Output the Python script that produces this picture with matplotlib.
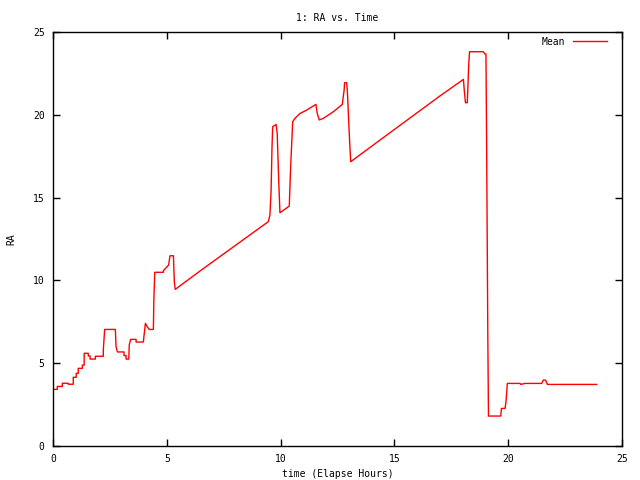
import matplotlib
matplotlib.use('Agg')
import matplotlib.pyplot as plt

# elapsed hours / RA readings
time_hours = [0.0, 0.19, 0.19, 0.41, 0.41, 0.67, 0.67, 0.89, 0.89, 1.02, 1.02, 1.11, 1.11,
              1.29, 1.29, 1.37, 1.37, 1.55, 1.55, 1.63, 1.63, 1.86, 1.86, 2.21, 2.21, 2.27,
              2.74, 2.77, 2.83, 3.12, 3.12, 3.21, 3.21, 3.33, 3.35, 3.41, 3.65, 3.65, 3.97,
              3.99, 4.06, 4.14, 4.23, 4.41, 4.43, 4.47, 4.85, 4.85, 5.08, 5.14, 5.29, 5.33,
              5.37, 6.46, 9.46, 9.53, 9.58, 9.62, 9.65, 9.80, 9.85, 9.91, 9.97, 10.38, 10.44,
              10.53, 10.63, 10.85, 11.15, 11.55, 11.61, 11.70, 11.88, 12.32, 12.71, 12.79,
              12.81, 12.90, 12.93, 13.00, 13.05, 13.08, 14.37, 17.00, 18.03, 18.07, 18.12,
              18.20, 18.22, 18.26, 18.30, 18.90, 18.98, 19.02, 19.05, 19.10, 19.13, 19.67,
              19.70, 19.86, 19.90, 19.96, 20.52, 20.55, 20.74, 21.47, 21.54, 21.64, 21.72,
              23.89]
ra = [3.42, 3.42, 3.60, 3.60, 3.79, 3.79, 3.73, 3.73, 4.15, 4.15, 4.39, 4.39, 4.69,
      4.69, 4.89, 4.89, 5.60, 5.60, 5.44, 5.44, 5.25, 5.25, 5.42, 5.42, 5.80, 7.04,
      7.04, 6.00, 5.68, 5.68, 5.46, 5.46, 5.25, 5.25, 6.10, 6.44, 6.44, 6.28, 6.28,
      6.56, 7.41, 7.20, 7.04, 7.04, 8.77, 10.49, 10.49, 10.59, 10.93, 11.49, 11.49,
      9.92, 9.46, 10.57, 13.55, 13.95, 15.36, 17.98, 19.28, 19.42, 18.88, 16.26, 14.09,
      14.49, 16.87, 19.58, 19.79, 20.08, 20.29, 20.63, 20.08, 19.69, 19.79, 20.19,
      20.63, 21.50, 21.94, 21.94, 21.50, 19.28, 17.87, 17.17, 18.48, 21.14, 22.14,
      21.44, 20.73, 20.73, 21.44, 22.99, 23.81, 23.81, 23.67, 23.67, 18.18, 7.00, 1.81,
      1.81, 2.27, 2.27, 2.68, 3.78, 3.78, 3.72, 3.78, 3.78, 3.98, 3.98, 3.72, 3.72]

x_ticks = [0, 5, 10, 15, 20, 25]
y_ticks = [0, 5, 10, 15, 20, 25]

plt.rcParams['font.family'] = 'DejaVu Sans Mono'
plt.rcParams['font.size'] = 7

fig = plt.figure(figsize=(6.4, 4.8), dpi=100)
ax = fig.add_axes([0.0828, 0.0708, 0.8892, 0.8625])
ax.plot(time_hours, ra, color='red', linewidth=1, label='Mean')
ax.set_xlim(0, 25)
ax.set_ylim(0, 25)
ax.set_xticks(x_ticks)
ax.set_yticks(y_ticks)
ax.tick_params(direction='in', top=True, right=True, length=5, width=1, pad=6)
for spine in ax.spines.values():
    spine.set_linewidth(1)
ax.set_title('1: RA vs. Time', fontsize=7, pad=8)
ax.set_xlabel('time (Elapse Hours)', labelpad=3)
ax.set_ylabel('RA', labelpad=12)
ax.legend(loc='upper right', bbox_to_anchor=(0.981, 0.998), frameon=False,
          markerfirst=False, handlelength=3.5, borderaxespad=0)
fig.savefig('out.png', dpi=100)
